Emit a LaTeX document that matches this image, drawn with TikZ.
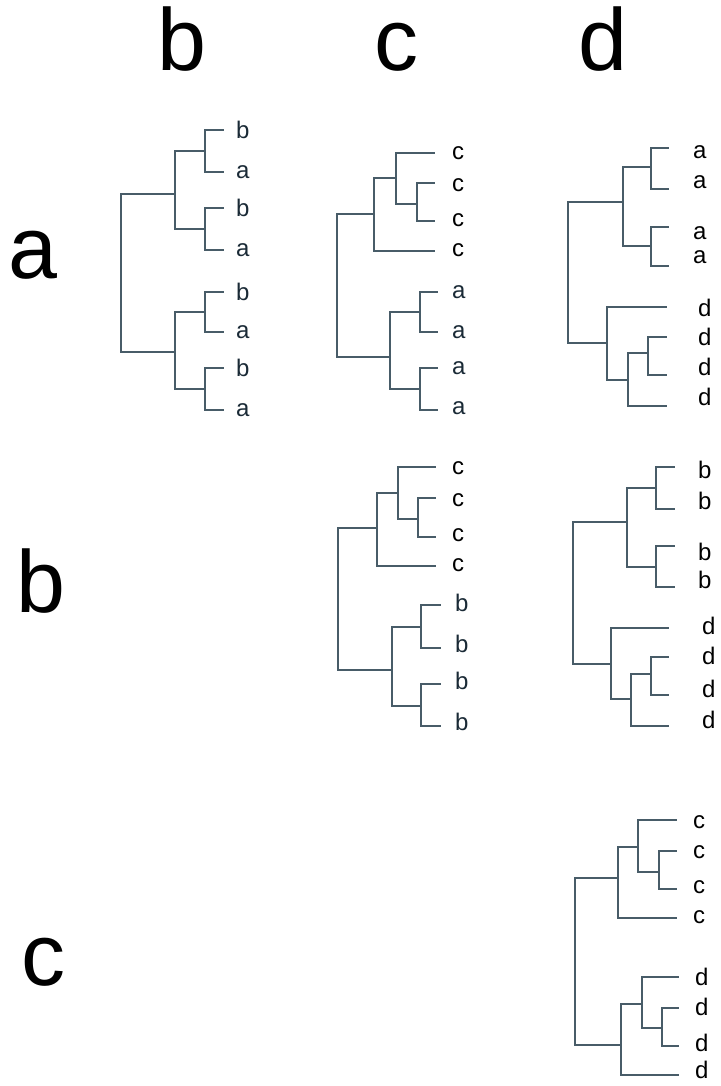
\documentclass[tikz,border=0pt]{standalone}
\usepackage{fontspec}
\setmainfont{Liberation Sans}
\definecolor{edge}{RGB}{72,92,104}
\definecolor{labdark}{RGB}{26,42,54}
\tikzset{
  br/.style={draw=edge, line width=1.8pt},
  lab/.style={font=\fontsize{24}{24}\selectfont, inner sep=0pt, anchor=west},
  big/.style={font=\fontsize{88}{88}\selectfont, inner sep=0pt, anchor=base}
}
\begin{document}
\begin{tikzpicture}[x=1pt,y=-1pt]
\useasboundingbox (0,0) rectangle (720,1086);
% headers
\node[big] (hb) at (182,71) {b};
\node[big] (hc) at (396,71) {c};
\node[big] (hd) at (603,71) {d};
\node[big] (ra) at (33,278) {a};
\node[big] (rb) at (41,612) {b};
\node[big] (rc) at (43,985) {c};

% ---------- tree 1 (row a, col b)
\coordinate (t1r) at (121,270);
\coordinate (t1u) at (175,194);
\coordinate (t1d) at (175,352);
\coordinate (t1s1) at (205,151);
\coordinate (t1s2) at (205,229);
\coordinate (t1s3) at (205,312);
\coordinate (t1s4) at (205,389);
\coordinate (t1l1) at (224,130);
\coordinate (t1l2) at (224,172);
\coordinate (t1l3) at (224,208);
\coordinate (t1l4) at (224,250);
\coordinate (t1l5) at (224,292);
\coordinate (t1l6) at (224,332);
\coordinate (t1l7) at (224,368);
\coordinate (t1l8) at (224,410);
\draw[br] (t1r) |- (t1u); \draw[br] (t1r) |- (t1d);
\draw[br] (t1u) |- (t1s1); \draw[br] (t1u) |- (t1s2);
\draw[br] (t1d) |- (t1s3); \draw[br] (t1d) |- (t1s4);
\draw[br] (t1s1) |- (t1l1); \draw[br] (t1s1) |- (t1l2);
\draw[br] (t1s2) |- (t1l3); \draw[br] (t1s2) |- (t1l4);
\draw[br] (t1s3) |- (t1l5); \draw[br] (t1s3) |- (t1l6);
\draw[br] (t1s4) |- (t1l7); \draw[br] (t1s4) |- (t1l8);
\node[lab,labdark] (t1n1) at (236,130) {b};
\node[lab,labdark] (t1n2) at (236,172) {a};
\node[lab,labdark] (t1n3) at (236,208) {b};
\node[lab,labdark] (t1n4) at (236,250) {a};
\node[lab,labdark] (t1n5) at (236,292) {b};
\node[lab,labdark] (t1n6) at (236,332) {a};
\node[lab,labdark] (t1n7) at (236,368) {b};
\node[lab,labdark] (t1n8) at (236,410) {a};

% ---------- tree 2 (row a, col c)
\coordinate (t2r) at (337,290);
\coordinate (t2u) at (374,214);
\coordinate (t2d) at (390,357);
\coordinate (t2n) at (396,178);
\coordinate (t2m) at (417,204);
\coordinate (t2s1) at (420,312);
\coordinate (t2s2) at (420,389);
\coordinate (t2l1) at (435,153);
\coordinate (t2l2) at (435,183);
\coordinate (t2l3) at (435,221);
\coordinate (t2l4) at (435,251);
\coordinate (t2l5) at (438,292);
\coordinate (t2l6) at (438,332);
\coordinate (t2l7) at (438,368);
\coordinate (t2l8) at (438,410);
\draw[br] (t2r) |- (t2u); \draw[br] (t2r) |- (t2d);
\draw[br] (t2u) |- (t2n); \draw[br] (t2u) |- (t2l4);
\draw[br] (t2n) |- (t2l1); \draw[br] (t2n) |- (t2m);
\draw[br] (t2m) |- (t2l2); \draw[br] (t2m) |- (t2l3);
\draw[br] (t2d) |- (t2s1); \draw[br] (t2d) |- (t2s2);
\draw[br] (t2s1) |- (t2l5); \draw[br] (t2s1) |- (t2l6);
\draw[br] (t2s2) |- (t2l7); \draw[br] (t2s2) |- (t2l8);
\node[lab] (t2n1) at (452,153) {c};
\node[lab] (t2n2) at (452,185) {c};
\node[lab] (t2n3) at (452,220) {c};
\node[lab] (t2n4) at (452,250) {c};
\node[lab,labdark] (t2n5) at (452,292) {a};
\node[lab,labdark] (t2n6) at (452,332) {a};
\node[lab,labdark] (t2n7) at (452,368) {a};
\node[lab,labdark] (t2n8) at (452,408) {a};

% ---------- tree 3 (row a, col d)
\coordinate (t3r) at (568,270);
\coordinate (t3u) at (623,202);
\coordinate (t3d) at (607,343);
\coordinate (t3s1) at (651,167);
\coordinate (t3s2) at (651,246);
\coordinate (t3n) at (628,380);
\coordinate (t3m) at (648,353);
\coordinate (t3l1) at (669,148);
\coordinate (t3l2) at (669,189);
\coordinate (t3l3) at (669,227);
\coordinate (t3l4) at (669,266);
\coordinate (t3l5) at (667,307);
\coordinate (t3l6) at (667,337);
\coordinate (t3l7) at (667,375);
\coordinate (t3l8) at (667,406);
\draw[br] (t3r) |- (t3u); \draw[br] (t3r) |- (t3d);
\draw[br] (t3u) |- (t3s1); \draw[br] (t3u) |- (t3s2);
\draw[br] (t3s1) |- (t3l1); \draw[br] (t3s1) |- (t3l2);
\draw[br] (t3s2) |- (t3l3); \draw[br] (t3s2) |- (t3l4);
\draw[br] (t3d) |- (t3l5); \draw[br] (t3d) |- (t3n);
\draw[br] (t3n) |- (t3m); \draw[br] (t3n) |- (t3l8);
\draw[br] (t3m) |- (t3l6); \draw[br] (t3m) |- (t3l7);
\node[lab] (t3n1) at (693,152) {a};
\node[lab] (t3n2) at (693,182) {a};
\node[lab] (t3n3) at (693,233) {a};
\node[lab] (t3n4) at (693,257) {a};
\node[lab] (t3n5) at (698,308) {d};
\node[lab] (t3n6) at (698,337) {d};
\node[lab] (t3n7) at (698,367) {d};
\node[lab] (t3n8) at (698,397) {d};

% ---------- tree 4 (row b, col c)
\coordinate (t4r) at (338,600);
\coordinate (t4u) at (377,528);
\coordinate (t4d) at (392,670);
\coordinate (t4n) at (398,493);
\coordinate (t4m) at (418,519);
\coordinate (t4s1) at (421,627);
\coordinate (t4s2) at (421,706);
\coordinate (t4l1) at (436,467);
\coordinate (t4l2) at (436,498);
\coordinate (t4l3) at (436,537);
\coordinate (t4l4) at (436,566);
\coordinate (t4l5) at (441,605);
\coordinate (t4l6) at (441,648);
\coordinate (t4l7) at (441,684);
\coordinate (t4l8) at (441,726);
\draw[br] (t4r) |- (t4u); \draw[br] (t4r) |- (t4d);
\draw[br] (t4u) |- (t4n); \draw[br] (t4u) |- (t4l4);
\draw[br] (t4n) |- (t4l1); \draw[br] (t4n) |- (t4m);
\draw[br] (t4m) |- (t4l2); \draw[br] (t4m) |- (t4l3);
\draw[br] (t4d) |- (t4s1); \draw[br] (t4d) |- (t4s2);
\draw[br] (t4s1) |- (t4l5); \draw[br] (t4s1) |- (t4l6);
\draw[br] (t4s2) |- (t4l7); \draw[br] (t4s2) |- (t4l8);
\node[lab] (t4n1) at (452,468) {c};
\node[lab] (t4n2) at (452,500) {c};
\node[lab] (t4n3) at (452,535) {c};
\node[lab] (t4n4) at (452,565) {c};
\node[lab,labdark] (t4n5) at (455,603) {b};
\node[lab,labdark] (t4n6) at (455,644) {b};
\node[lab,labdark] (t4n7) at (455,681) {b};
\node[lab,labdark] (t4n8) at (455,722) {b};

% ---------- tree 5 (row b, col d)
\coordinate (t5r) at (573,600);
\coordinate (t5u) at (627,522);
\coordinate (t5d) at (611,664);
\coordinate (t5s1) at (656,488);
\coordinate (t5s2) at (656,567);
\coordinate (t5n) at (631,699);
\coordinate (t5m) at (651,674);
\coordinate (t5l1) at (675,467);
\coordinate (t5l2) at (675,509);
\coordinate (t5l3) at (675,546);
\coordinate (t5l4) at (675,587);
\coordinate (t5l5) at (669,628);
\coordinate (t5l6) at (669,657);
\coordinate (t5l7) at (669,695);
\coordinate (t5l8) at (669,726);
\draw[br] (t5r) |- (t5u); \draw[br] (t5r) |- (t5d);
\draw[br] (t5u) |- (t5s1); \draw[br] (t5u) |- (t5s2);
\draw[br] (t5s1) |- (t5l1); \draw[br] (t5s1) |- (t5l2);
\draw[br] (t5s2) |- (t5l3); \draw[br] (t5s2) |- (t5l4);
\draw[br] (t5d) |- (t5l5); \draw[br] (t5d) |- (t5n);
\draw[br] (t5n) |- (t5m); \draw[br] (t5n) |- (t5l8);
\draw[br] (t5m) |- (t5l6); \draw[br] (t5m) |- (t5l7);
\node[lab] (t5n1) at (698,470) {b};
\node[lab] (t5n2) at (698,501) {b};
\node[lab] (t5n3) at (698,552) {b};
\node[lab] (t5n4) at (698,580) {b};
\node[lab] (t5n5) at (702,626) {d};
\node[lab] (t5n6) at (702,656) {d};
\node[lab] (t5n7) at (702,689) {d};
\node[lab] (t5n8) at (702,720) {d};

% ---------- tree 6 (row c, col d)
\coordinate (t6r) at (575,960);
\coordinate (t6u) at (618,878);
\coordinate (t6d) at (621,1045);
\coordinate (t6n) at (638,847);
\coordinate (t6m) at (659,872);
\coordinate (t6p) at (642,1004);
\coordinate (t6q) at (662,1028);
\coordinate (t6l1) at (677,820);
\coordinate (t6l2) at (677,851);
\coordinate (t6l3) at (677,889);
\coordinate (t6l4) at (677,918);
\coordinate (t6l5) at (679,977);
\coordinate (t6l6) at (679,1008);
\coordinate (t6l7) at (679,1046);
\coordinate (t6l8) at (679,1075);
\draw[br] (t6r) |- (t6u); \draw[br] (t6r) |- (t6d);
\draw[br] (t6u) |- (t6n); \draw[br] (t6u) |- (t6l4);
\draw[br] (t6n) |- (t6l1); \draw[br] (t6n) |- (t6m);
\draw[br] (t6m) |- (t6l2); \draw[br] (t6m) |- (t6l3);
\draw[br] (t6d) |- (t6p); \draw[br] (t6d) |- (t6l8);
\draw[br] (t6p) |- (t6l5); \draw[br] (t6p) |- (t6q);
\draw[br] (t6q) |- (t6l6); \draw[br] (t6q) |- (t6l7);
\node[lab] (t6n1) at (693,822) {c};
\node[lab] (t6n2) at (693,852) {c};
\node[lab] (t6n3) at (693,887) {c};
\node[lab] (t6n4) at (693,917) {c};
\node[lab] (t6n5) at (695,977) {d};
\node[lab] (t6n6) at (695,1007) {d};
\node[lab] (t6n7) at (695,1043) {d};
\node[lab] (t6n8) at (695,1070) {d};
\end{tikzpicture}
\end{document}
